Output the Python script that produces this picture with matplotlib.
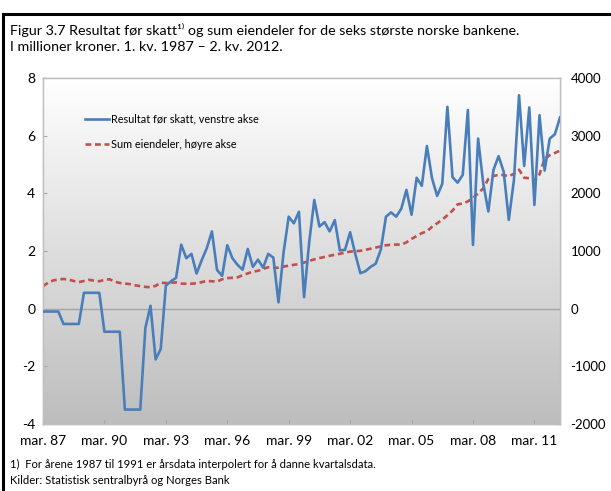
import matplotlib
matplotlib.use("Agg")
import matplotlib.pyplot as plt
import numpy as np
from matplotlib.lines import Line2D
from matplotlib.colors import LinearSegmentedColormap

plt.rcParams["font.family"] = ["Lato", "DejaVu Sans"]

# quarterly, 1987 Q1 .. 2012 Q2
resultat = [
    -0.1, -0.1, -0.1, -0.1,
    -0.53, -0.53, -0.53, -0.53,
    0.55, 0.55, 0.55, 0.55,
    -0.8, -0.8, -0.8, -0.8,
    -3.5, -3.5, -3.5, -3.5,
    -0.67, 0.1, -1.76, -1.4, 0.8, 0.95, 1.07, 2.22, 1.75, 1.9,
    1.22, 1.68, 2.1, 2.68, 1.34, 1.14, 2.2, 1.75, 1.52, 1.35,
    2.07, 1.45, 1.7, 1.42, 1.9, 1.77, 0.22, 1.95, 3.19, 2.96,
    3.36, 0.4, 2.3, 3.77, 2.85, 3.0, 2.68, 3.07, 2.02, 2.04,
    2.65, 1.9, 1.23, 1.3, 1.45, 1.56, 2.05, 3.19, 3.34, 3.19,
    3.47, 4.12, 3.26, 4.54, 4.26, 5.64, 4.52, 3.91, 4.33, 7.0,
    4.56, 4.37, 4.64, 6.89, 2.21, 5.9, 4.35, 3.37, 4.81, 5.29,
    4.75, 3.08, 4.46, 7.4, 4.95, 6.98, 3.6, 6.71, 4.79, 5.9,
    6.05, 6.63,
]
eiendeler = [
    390, 450, 490, 505, 515, 505, 480, 460, 480, 500,
    485, 475, 500, 510, 470, 445, 435, 425, 405, 390,
    378, 372, 395, 450, 445, 450, 455, 435, 432, 433,
    440, 460, 482, 475, 470, 510, 530, 535, 543, 580,
    612, 640, 657, 690, 718, 712, 710, 730, 745, 760,
    773, 800, 828, 855, 877, 897, 917, 935, 952, 972,
    990, 996, 1003, 1020, 1040, 1060, 1080, 1100, 1108, 1112,
    1110, 1150, 1210, 1260, 1310, 1340, 1420, 1480, 1545, 1620,
    1700, 1810, 1822, 1860, 1920, 2000, 2085, 2250, 2300, 2320,
    2318, 2295, 2340, 2410, 2270, 2262, 2215, 2330, 2600, 2660,
    2700, 2740,
]
x_labels = ["mar. 87", "mar. 90", "mar. 93", "mar. 96", "mar. 99",
            "mar. 02", "mar. 05", "mar. 08", "mar. 11"]
left_ticks = [-4, -2, 0, 2, 4, 6, 8]
right_ticks = [-2000, -1000, 0, 1000, 2000, 3000, 4000]

W, H = 611, 491
fig = plt.figure(figsize=(W / 100, H / 100), dpi=100)
fig.patch.set_facecolor("white")

# plot area in pixels
px_l, px_r, px_t, px_b = 43, 560, 78, 424
ax = fig.add_axes([px_l / W, 1 - px_b / H, (px_r - px_l) / W, (px_b - px_t) / H])
ax2 = ax.twinx()

x = np.arange(len(resultat))

# gradient background
cmap = LinearSegmentedColormap.from_list("bg", ["#ffffff", "#bdbdbd"])
grad = np.linspace(0, 1, 256).reshape(-1, 1)
ax.imshow(grad, cmap=cmap, aspect="auto", extent=[0, 1, 0, 1],
          transform=ax.transAxes, zorder=0, origin="upper")

ax.axhline(0, color="#a6a6a6", lw=1.0, zorder=1)

ax.set_zorder(ax2.get_zorder() + 1)
ax.patch.set_visible(False)
ax2.patch.set_visible(False)

l2, = ax.plot(x, eiendeler, color="#c0504d", lw=1.9, ls=(0, (2.2, 1.4)),
              transform=ax2.transData, zorder=2,
              label="Sum eiendeler, høyre akse")
l1, = ax.plot(x, resultat, color="#4a7ebb", lw=1.9, zorder=3,
              label="Resultat før skatt, venstre akse")

ax.set_xlim(0, len(resultat) - 1)
ax.set_ylim(-4, 8)
ax2.set_ylim(-2000, 4000)

ax.set_xticks(np.arange(0, len(resultat), 12))
ax.set_xticklabels(x_labels)
ax.set_yticks(left_ticks)
ax.set_yticklabels([str(v) for v in left_ticks])
ax2.set_yticks(right_ticks)
ax2.set_yticklabels([str(v) for v in right_ticks])

ax.tick_params(axis="x", direction="in", length=3, color="#a6a6a6",
               labelsize=10, pad=8)
ax.tick_params(axis="y", direction="in", length=3, color="#a6a6a6",
               labelsize=10, pad=5.5)
ax2.tick_params(axis="y", direction="in", length=3, color="#a6a6a6",
                labelsize=9.5, pad=7.5)

for a in (ax, ax2):
    for s in a.spines.values():
        s.set_color("#bfbfbf")
        s.set_linewidth(1.0)

leg = ax.legend(handles=[l1, l2], loc="upper left",
                bbox_to_anchor=(0.072, 0.91), frameon=False, fontsize=7.8,
                handlelength=2.3, handletextpad=0.15, labelspacing=1.35,
                borderaxespad=0)

fig.text(10 / W, 1 - 30 / H,
         "Figur 3.7 Resultat før skatt¹⁾ og sum eiendeler for de seks største norske bankene.",
         fontsize=10.3, va="center", ha="left")
fig.text(10 / W, 1 - 47 / H,
         "I millioner kroner. 1. kv. 1987 – 2. kv. 2012.",
         fontsize=10.3, va="center", ha="left")
fig.text(10 / W, 1 - 464 / H,
         "1)  For årene 1987 til 1991 er årsdata interpolert for å danne kvartalsdata.",
         fontsize=8.1, va="center", ha="left")
fig.text(10 / W, 1 - 480 / H,
         "Kilder: Statistisk sentralbyrå og Norges Bank",
         fontsize=8.1, va="center", ha="left")

# outer frame: left and top edges
fig.add_artist(Line2D([3 / W, 3 / W], [0, 1 - 14 / H], transform=fig.transFigure,
                      color="black", lw=2.2))
fig.add_artist(Line2D([3 / W, 1], [1 - 14 / H, 1 - 14 / H], transform=fig.transFigure,
                      color="black", lw=2.2))

fig.savefig("out.png", dpi=100)
